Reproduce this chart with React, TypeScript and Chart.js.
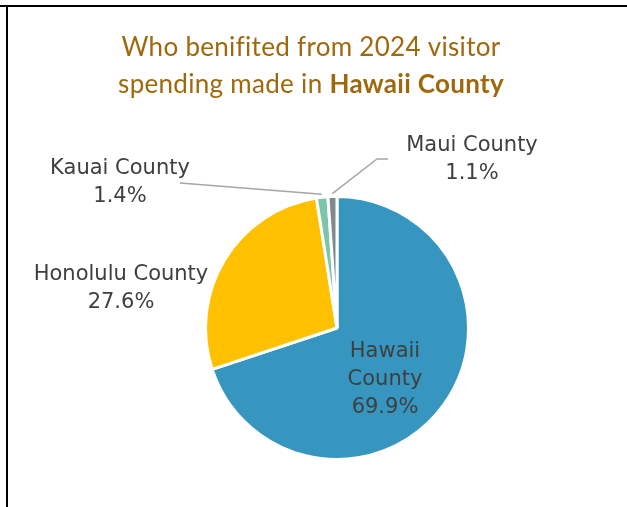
import React, { useEffect, useRef } from "react";
import { Chart, registerables } from "chart.js";

Chart.register(...registerables);

const categories = ["Hawaii County", "Honolulu County", "Kauai County", "Maui County"];
const shares = [69.9, 27.6, 1.4, 1.1];
const sliceColors = ["#3796BF", "#FFC000", "#7CC5AB", "#7F8A8D"];
const titleLine1 = "Who benifited from 2024 visitor";
const titleLine2Normal = "spending made in ";
const titleLine2Bold = "Hawaii County";

const TITLE_COLOR = "#A0680C";
const LABEL_COLOR = "#3F3F3F";
const LEADER_COLOR = "#A6A6A6";
const LABEL_FONT = "21px 'DejaVu Sans', sans-serif";
const TITLE_FONT = "Lato, 'Open Sans', sans-serif";
const TITLE_SIZE = 26;

// label anchor offsets from pie center (text layout, not data)
const labelOffsets: Record<string, { dx: number; dy: number; lines: string[] }> = {
  "Hawaii County": { dx: 48, dy: 24, lines: ["Hawaii", "County"] },
  "Honolulu County": { dx: -216, dy: -53, lines: ["Honolulu County"] },
  "Kauai County": { dx: -217, dy: -159, lines: ["Kauai County"] },
  "Maui County": { dx: 135, dy: -182, lines: ["Maui County"] },
};

const decorPlugin = {
  id: "decor",
  beforeDraw(chart: any) {
    const ctx = chart.ctx;
    ctx.save();
    ctx.fillStyle = "#ffffff";
    ctx.fillRect(0, 0, chart.width, chart.height);
    ctx.fillStyle = "#000000";
    ctx.fillRect(0, 5, chart.width, 2);
    ctx.fillRect(6, 5, 2, chart.height - 5);

    // title
    ctx.fillStyle = TITLE_COLOR;
    ctx.textBaseline = "middle";
    ctx.textAlign = "left";
    try { (ctx as any).letterSpacing = "0.3px"; } catch (e) {}
    const cx = 311;
    ctx.font = `${TITLE_SIZE}px ${TITLE_FONT}`;
    const w1 = ctx.measureText(titleLine1).width;
    ctx.fillText(titleLine1, cx - w1 / 2, 48);
    const wn = ctx.measureText(titleLine2Normal).width;
    ctx.font = `bold ${TITLE_SIZE}px ${TITLE_FONT}`;
    const wb = ctx.measureText(titleLine2Bold).width;
    const start = cx - (wn + wb) / 2;
    ctx.font = `${TITLE_SIZE}px ${TITLE_FONT}`;
    ctx.fillText(titleLine2Normal, start, 85);
    ctx.font = `bold ${TITLE_SIZE}px ${TITLE_FONT}`;
    ctx.fillText(titleLine2Bold, start + wn, 85);
    try { (ctx as any).letterSpacing = "0px"; } catch (e) {}
    ctx.restore();
  },
  afterDatasetsDraw(chart: any) {
    const ctx = chart.ctx;
    const meta = chart.getDatasetMeta(0);
    const arcs = meta.data;
    if (!arcs.length) return;
    const cx = arcs[0].x;
    const cy = arcs[0].y;
    const r = arcs[0].outerRadius;
    const edge = (i: number, extra: number) => {
      const a = (arcs[i].startAngle + arcs[i].endAngle) / 2;
      return { x: cx + Math.cos(a) * (r + extra), y: cy + Math.sin(a) * (r + extra) };
    };
    ctx.save();
    // leader lines
    ctx.strokeStyle = LEADER_COLOR;
    ctx.lineWidth = 1.5;
    const kIdx = categories.indexOf("Kauai County");
    const kp = edge(kIdx, 3);
    ctx.beginPath();
    ctx.moveTo(cx - 157, cy - 145);
    ctx.lineTo(kp.x, kp.y);
    ctx.stroke();
    const mIdx = categories.indexOf("Maui County");
    const mp = edge(mIdx, 3);
    ctx.beginPath();
    ctx.moveTo(mp.x, mp.y);
    ctx.lineTo(cx + 40, cy - 169);
    ctx.lineTo(cx + 51, cy - 169);
    ctx.stroke();

    // labels
    ctx.fillStyle = LABEL_COLOR;
    ctx.font = LABEL_FONT;
    ctx.textAlign = "center";
    ctx.textBaseline = "middle";
    categories.forEach((c, i) => {
      const o = labelOffsets[c];
      const lines = [...o.lines, shares[i].toFixed(1) + "%"];
      lines.forEach((t, j) => {
        ctx.fillText(t, cx + o.dx, cy + o.dy + j * 28);
      });
    });
    ctx.restore();
  },
};

export default function App() {
  const ref = useRef<HTMLCanvasElement>(null);
  useEffect(() => {
    if (!ref.current) return;
    const chart = new Chart(ref.current, {
      type: "pie",
      data: {
        labels: categories,
        datasets: [
          {
            data: shares,
            backgroundColor: sliceColors,
            borderColor: "#ffffff",
            borderWidth: 3,
          },
        ],
      },
      options: {
        responsive: false,
        animation: false,
        devicePixelRatio: 1,
        layout: { padding: { left: 204, right: 157, top: 194, bottom: 45 } },
        plugins: {
          legend: { display: false },
          tooltip: { enabled: false },
          title: { display: false },
        },
      },
      plugins: [decorPlugin],
    });
    return () => chart.destroy();
  }, []);
  return (
    <canvas
      ref={ref}
      width={627}
      height={507}
      style={{ position: "fixed", left: 0, top: 0, width: 627, height: 507 }}
    />
  );
}
